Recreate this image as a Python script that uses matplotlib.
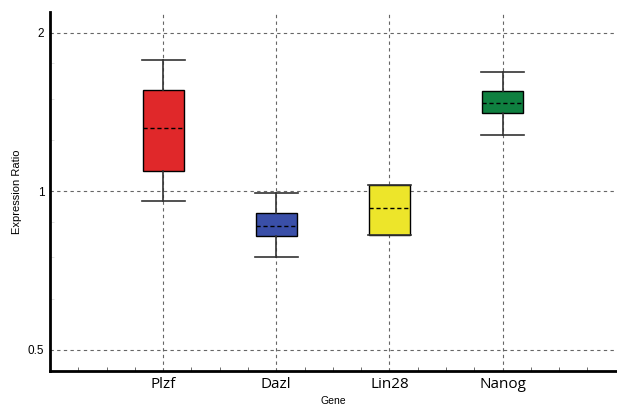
import matplotlib
matplotlib.use("Agg")
import matplotlib.pyplot as plt
from matplotlib.ticker import FixedLocator, NullFormatter

genes = ["Plzf", "Dazl", "Lin28", "Nanog"]
whisker_low = [0.957, 0.750, 0.826, 1.279]
q1 = [1.094, 0.824, 0.826, 1.408]
median = [1.319, 0.860, 0.930, 1.469]
q3 = [1.557, 0.911, 1.029, 1.549]
whisker_high = [1.778, 0.991, 1.029, 1.687]
colors = ["#e0282a", "#3a4fa8", "#ede52a", "#0f8040"]

stats = []
for i, g in enumerate(genes):
    stats.append({
        "label": g,
        "whislo": whisker_low[i],
        "q1": q1[i],
        "med": median[i],
        "q3": q3[i],
        "whishi": whisker_high[i],
    })

fig = plt.figure(figsize=(6.17, 4.07), dpi=100)
ax = fig.add_axes([0.081, 0.0885, 0.917, 0.882])

positions = list(range(1, len(genes) + 1))
bp = ax.bxp(
    stats, positions=positions, widths=0.36, showfliers=False,
    patch_artist=True,
    boxprops=dict(edgecolor="black", linewidth=1.0),
    whiskerprops=dict(color="#333333", linewidth=1.2),
    capprops=dict(color="#333333", linewidth=1.2),
    medianprops=dict(color="black", linewidth=1.0, linestyle=(0, (3, 2))),
    capwidths=0.38,
)
for patch, c in zip(bp["boxes"], colors):
    patch.set_facecolor(c)

ax.set_yscale("log")
ax.set_ylim(0.456, 2.19)
ax.set_xlim(0, 5)

ax.yaxis.set_major_locator(FixedLocator([0.5, 1, 2]))
ax.set_yticklabels(["0.5", "1", "2"], fontsize=8.5, family="Liberation Sans")
ax.yaxis.set_minor_locator(FixedLocator([0.625, 0.75, 0.875, 1.25, 1.5, 1.75]))
ax.yaxis.set_minor_formatter(NullFormatter())

ax.set_xticks(positions)
ax.set_xticklabels(genes, fontsize=11, family="Open Sans")
ax.xaxis.set_minor_locator(FixedLocator([x * 0.25 for x in range(1, 20)]))

ax.tick_params(axis="both", which="major", length=0, pad=4)
ax.tick_params(axis="x", which="minor", direction="in", length=3, color="#555555")
ax.tick_params(axis="y", which="minor", direction="in", length=3, color="#dddddd")

ax.grid(True, which="major", linestyle=(0, (3, 3)), color="#666666", linewidth=0.8)
ax.set_axisbelow(True)

for s in ["top", "right"]:
    ax.spines[s].set_visible(False)
for s in ["left", "bottom"]:
    ax.spines[s].set_linewidth(2)
    ax.spines[s].set_color("black")

ax.set_xlabel("Gene", fontsize=7.5, family="Liberation Sans", labelpad=3)
ax.set_ylabel("Expression Ratio", fontsize=8, family="Liberation Sans", labelpad=4)

fig.savefig("out.png", dpi=100)
